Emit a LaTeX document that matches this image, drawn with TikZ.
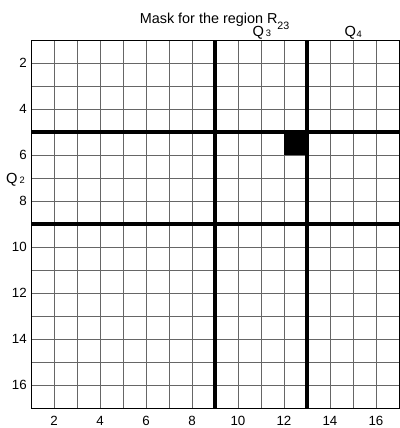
\documentclass[tikz,border=0pt]{standalone}
\usepackage{fontspec}
\setmainfont{Liberation Sans}
\begin{document}
\begin{tikzpicture}[x=17.25pt,y=-17.25pt,inner sep=0pt,
    gridline/.style={black!60,line width=0.6pt},
    masksplit/.style={line width=2.3pt},
    ticklabel/.style={font=\fontsize{10}{11}\selectfont}]
    \useasboundingbox (-0.348,-0.739) rectangle (17.043,17.870);
    % --- cell grid ---
    \foreach \k in {2,...,16} {
      \draw[gridline] (\k,1) -- (\k,17);
      \draw[gridline] (1,\k) -- (17,\k);
    }
    % the one masked cell
    \fill (12,5) rectangle (13,6);
    \draw[line width=0.6pt] (1,1) rectangle (17,17);
    % --- quadrant borders ---
    \foreach \k in {9,13}
      \draw[masksplit] (\k,1) -- (\k,17);
    \foreach \k in {5,9}
      \draw[masksplit] (1,\k) -- (17,\k);
    \foreach \p in {(5,5),(5,9),(9,13),(13,13)}
      \fill \p ++(-0.1,-0.1) rectangle ++(0.2,0.2);
    % --- axis numbers ---
    \foreach \k in {2,4,...,16} {
      \node[ticklabel] (xl\k) at (\k,17.565) {\k};
      \node[ticklabel,anchor=east] (yl\k) at (0.826,\k) {\k};
    }
    % --- title and quadrant names ---
    \node[anchor=base west,font=\fontsize{10.8}{12}\selectfont] (title) at (5.72,0.274)
      {Mask for the region R\raisebox{-4.5pt}{\fontsize{8}{8}\selectfont 23}};
    \node[anchor=base west,font=\fontsize{11}{12}\selectfont] (q3) at (10.62,0.848)
      {Q\hspace{1.5pt}\raisebox{-0.3pt}{\fontsize{7}{7}\selectfont 3}};
    \node[anchor=base west,font=\fontsize{11}{12}\selectfont] (q4) at (14.62,0.848)
      {Q\hspace{0.5pt}\raisebox{-0.6pt}{\fontsize{7}{7}\selectfont 4}};
    \node[anchor=base east,font=\fontsize{11}{12}\selectfont] (q2) at (0.74,7.24)
      {Q\hspace{1.5pt}\raisebox{-0.3pt}{\fontsize{7}{7}\selectfont 2}};
\end{tikzpicture}
\end{document}
